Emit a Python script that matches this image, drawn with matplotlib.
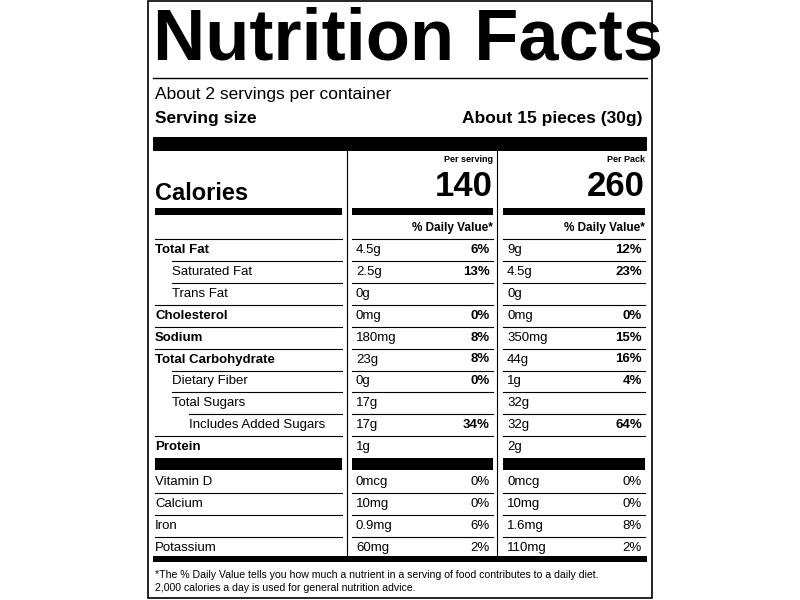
import matplotlib
matplotlib.use("Agg")
import matplotlib.pyplot as plt
from matplotlib.patches import Rectangle

nutrients = ["Total Fat", "Saturated Fat", "Trans Fat", "Cholesterol", "Sodium",
             "Total Carbohydrate", "Dietary Fiber", "Total Sugars", "Includes Added Sugars", "Protein"]
indent = [0, 1, 1, 0, 0, 0, 1, 1, 2, 0]
bold = [1, 0, 0, 1, 1, 1, 0, 0, 0, 1]
serv_amt = ["4.5g", "2.5g", "0g", "0mg", "180mg", "23g", "0g", "17g", "17g", "1g"]
serv_dv = ["6%", "13%", "", "0%", "8%", "8%", "0%", "", "34%", ""]
pack_amt = ["9g", "4.5g", "0g", "0mg", "350mg", "44g", "1g", "32g", "32g", "2g"]
pack_dv = ["12%", "23%", "", "0%", "15%", "16%", "4%", "", "64%", ""]
vitamins = ["Vitamin D", "Calcium", "Iron", "Potassium"]
vit_serv_amt = ["0mcg", "10mg", "0.9mg", "60mg"]
vit_serv_dv = ["0%", "0%", "6%", "2%"]
vit_pack_amt = ["0mcg", "10mg", "1.6mg", "110mg"]
vit_pack_dv = ["0%", "0%", "8%", "2%"]
calories = ["140", "260"]

fig = plt.figure(figsize=(8, 6), dpi=100)
ax = fig.add_axes([0, 0, 1, 1])
ax.set_xlim(0, 800); ax.set_ylim(600, 0); ax.axis("off")
F = "Liberation Sans"

def bar(x0, x1, y0, y1):
    ax.add_patch(Rectangle((x0, y0), x1 - x0, y1 - y0, color="black", lw=0))

def hline(x0, x1, y, lw=0.8):
    ax.plot([x0, x1], [y, y], color="black", lw=lw)

def t(x, y, s, size=10, w="normal", ha="left", **kw):
    return ax.text(x, y, s, fontsize=size, fontweight=w, ha=ha, va="center", family=F, **kw)

ax.add_patch(Rectangle((148, 1), 504, 597, fill=False, lw=1.2, ec="black"))
t(153, 40, "Nutrition Facts", 52, "heavy", stretch="expanded")
hline(153, 647, 78, 1)
t(155, 94, "About 2 servings per container", 12.5)
t(155, 119, "Serving size", 12.5, "bold")
t(643, 119, "About 15 pieces (30g)", 12.5, "bold", "right")
bar(153, 647, 137, 151)

for x in (347, 497):
    ax.plot([x, x], [151, 556], color="black", lw=0.8)

cols = [(352, 493), (503, 645)]
labels = ["Per serving", "Per Pack"]
for (x0, x1), lab, cal in zip(cols, labels, calories):
    t(x1, 159, lab, 6.5, "bold", "right")
    t(x1, 187, cal, 25, "bold", "right")
    bar(x0, x1, 208, 215)
    t(x1, 228, "% Daily Value*", 8.5, "bold", "right")
t(155, 193, "Calories", 17, "bold")
bar(155, 342, 208, 215)

sects = [(155, 342)] + cols
for (x0, x1) in sects:
    hline(x0, x1, 239)

ys = [250 + 21.9 * i for i in range(len(nutrients))]
for i, y in enumerate(ys):
    t(155 + 17 * indent[i], y, nutrients[i], 9.5, "bold" if bold[i] else "normal")
    t(356, y, serv_amt[i], 9.5)
    t(490, y, serv_dv[i], 9.5, "bold", "right")
    t(507, y, pack_amt[i], 9.5)
    t(642, y, pack_dv[i], 9.5, "bold", "right")
    if i < len(nutrients) - 1:
        for (x0, x1) in sects:
            hline(x0 + (17 * indent[i + 1] if x0 == 155 else 0), x1, y + 11)
for (x0, x1) in sects:
    bar(x0, x1, 458, 470)

vy = [482 + 21.9 * i for i in range(len(vitamins))]
for i, y in enumerate(vy):
    t(155, y, vitamins[i], 9.5)
    t(356, y, vit_serv_amt[i], 9.5)
    t(490, y, vit_serv_dv[i], 9.5, "normal", "right")
    t(507, y, vit_pack_amt[i], 9.5)
    t(642, y, vit_pack_dv[i], 9.5, "normal", "right")
    if i < len(vitamins) - 1:
        for (x0, x1) in sects:
            hline(x0, x1, y + 11)
bar(153, 647, 556, 562)

t(155, 575, "*The % Daily Value tells you how much a nutrient in a serving of food contributes to a daily diet.", 7.6)
t(155, 588, "2,000 calories a day is used for general nutrition advice.", 7.6)

fig.savefig("out.png", dpi=100, facecolor="white")
